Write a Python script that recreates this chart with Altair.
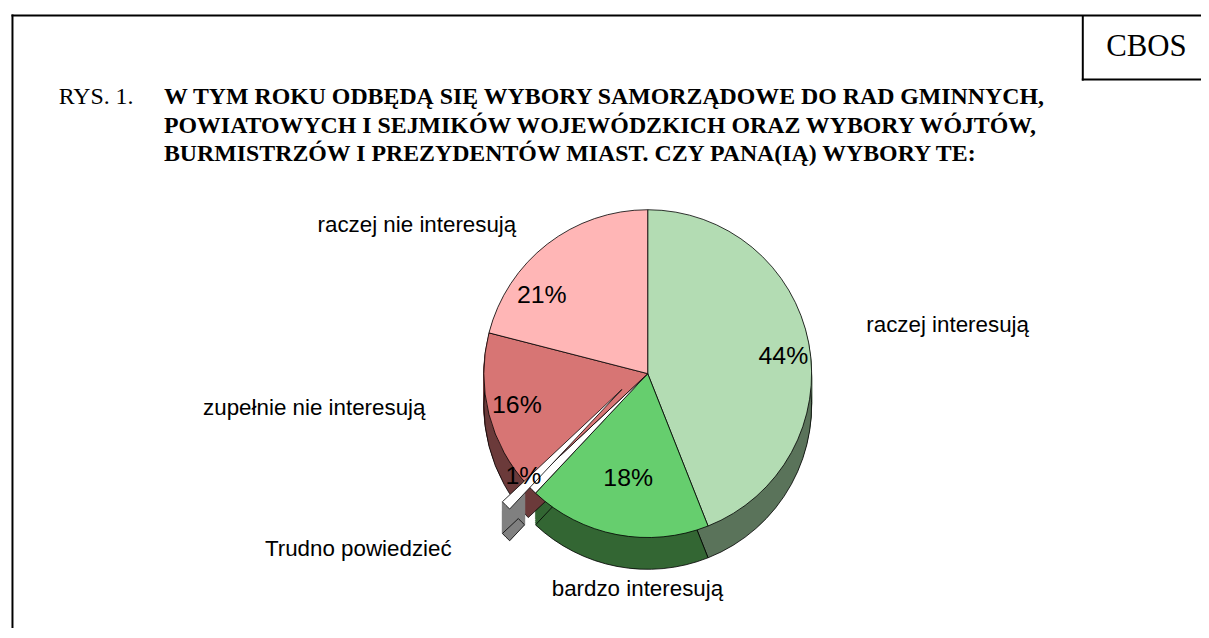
import altair as alt
import pandas as pd

# ---- data ----
categories = ["raczej interesują", "bardzo interesują", "Trudno powiedzieć",
              "zupełnie nie interesują", "raczej nie interesują"]
values = [44, 18, 1, 16, 21]
title_lines = [
    "W TYM ROKU ODBĘDĄ SIĘ WYBORY SAMORZĄDOWE DO RAD GMINNYCH,",
    "POWIATOWYCH I SEJMIKÓW WOJEWÓDZKICH ORAZ WYBORY WÓJTÓW,",
    "BURMISTRZÓW I PREZYDENTÓW MIAST. CZY PANA(IĄ) WYBORY TE:",
]
exploded = "Trudno powiedzieć"

# ---- styles ----
top_colors = ["#B3DCB3", "#66CE6E", "#FFFFFF", "#D77574", "#FFB6B6"]
side_colors = ["#5A735A", "#336633", "#808080", "#6B3A3A", "#806060"]
CX, CY, R, DEPTH = 644, 366, 165, 32
EX, EY = -26, 16
SANS = "Liberation Sans"
SERIF = "Liberation Serif"

label_style = {
    "raczej interesują": dict(radius=224, align="left", dx=0, dy=0),
    "bardzo interesują": dict(radius=226, align="center", dx=32, dy=2),
    "Trudno powiedzieć": dict(radius=265, align="right", dx=-10, dy=-4),
    "zupełnie nie interesują": dict(radius=231, align="right", dx=0, dy=-16),
    "raczej nie interesują": dict(radius=180, align="right", dx=-22, dy=0),
}
pct_style = {
    "raczej interesują": dict(radius=135, dx=4, dy=8),
    "bardzo interesują": dict(radius=105, dx=0, dy=2),
    "Trudno powiedzieć": dict(radius=160, dx=-12, dy=-10),
    "zupełnie nie interesują": dict(radius=136, dx=0, dy=-2),
    "raczej nie interesują": dict(radius=125, dx=-30, dy=20),
}

df = pd.DataFrame({"category": categories, "value": values,
                   "idx": list(range(len(categories)))})
one = pd.DataFrame({"a": [0]})

base = alt.Chart(df).encode(
    theta=alt.Theta("value:Q", stack=True),
    order=alt.Order("idx:Q"),
)


def arcs(dx, dy, colors, stroke, mode, inner=0):
    enc = dict(
        x=alt.value(CX + dx), y=alt.value(CY + dy),
        color=alt.Color("category:N", scale=alt.Scale(domain=categories, range=colors),
                        legend=None),
    )
    if mode == "only":
        enc["opacity"] = alt.condition(alt.datum.category == exploded, alt.value(1), alt.value(0))
    elif mode == "hide":
        enc["opacity"] = alt.condition(alt.datum.category == exploded, alt.value(0), alt.value(1))
    mk = dict(outerRadius=R)
    if inner:
        mk["innerRadius"] = inner
    if stroke:
        mk.update(stroke="black", strokeWidth=0.8)
    else:
        # same-colour outline hides anti-aliasing seams between stacked layers
        enc["stroke"] = alt.Stroke("category:N",
                                   scale=alt.Scale(domain=categories, range=colors),
                                   legend=None)
        mk["strokeWidth"] = 1.2
    return base.mark_arc(**mk).encode(**enc)


layers = []
# main pie: side (extrusion) then top
for k in range(2, DEPTH, 2):
    layers.append(arcs(0, k, side_colors, False, "hide"))
layers.append(arcs(0, DEPTH, side_colors, True, "hide"))
layers.append(arcs(0, 0, top_colors, True, "all"))
# exploded slice (only its outer end shows a side face)
for k in range(1, DEPTH, 1):
    layers.append(arcs(EX, EY + k, side_colors, False, "only", inner=R - 22))
layers.append(arcs(EX, EY + DEPTH, side_colors, True, "only", inner=R - 22))
layers.append(arcs(EX, EY, top_colors, True, "only"))

# category labels
for cat, st in label_style.items():
    layers.append(
        base.mark_text(radius=st["radius"], align=st["align"], baseline="alphabetic",
                       dx=st["dx"], dy=st["dy"], font=SANS, fontSize=22.5, color="black")
        .encode(x=alt.value(CX), y=alt.value(CY),
                text=alt.condition(alt.datum.category == cat, alt.Text("category:N"), alt.value("")))
    )
# percentage labels
for cat, st in pct_style.items():
    layers.append(
        base.transform_calculate(pct="datum.value + '%'")
        .mark_text(radius=st["radius"], align="center", baseline="middle",
                   dx=st["dx"], dy=st["dy"], font=SANS, fontSize=25, color="black")
        .encode(x=alt.value(CX), y=alt.value(CY),
                text=alt.condition(alt.datum.category == cat, alt.Text("pct:N"), alt.value("")))
    )

# frame and CBOS box (lines)
def hline(x1, x2, y):
    return alt.Chart(one).mark_rule(stroke="black", strokeWidth=2).encode(
        x=alt.value(x1), x2=alt.value(x2), y=alt.value(y))


def vline(x, y1, y2):
    return alt.Chart(one).mark_rule(stroke="black", strokeWidth=2).encode(
        x=alt.value(x), y=alt.value(y1), y2=alt.value(y2))


frame = [hline(3.5, 1210, 5.5), vline(4.5, 4.5, 640),
         vline(1082, 5.5, 71), hline(1081, 1210, 70)]
cbos = alt.Chart(one).mark_text(font=SERIF, fontSize=31, align="center", baseline="middle",
                                color="black").encode(
    x=alt.value(1146), y=alt.value(37), text=alt.value("CBOS"))
rys = alt.Chart(one).mark_text(font=SERIF, fontSize=24, align="left", baseline="alphabetic",
                               color="black").encode(
    x=alt.value(51), y=alt.value(95), text=alt.value("RYS. 1."))
title = alt.Chart(one).mark_text(font=SERIF, fontSize=24, fontWeight="bold", align="left",
                                 baseline="alphabetic", lineHeight=28.5, color="black").encode(
    x=alt.value(157), y=alt.value(95), text=alt.value(title_lines))

chart = alt.layer(*frame, cbos, rys, title, *layers).resolve_scale(
    color="independent", stroke="independent", opacity="independent"
).properties(width=1201, height=620, padding=0, autosize="none").configure_view(stroke=None)

chart.save("out.html", embed_options={"renderer": "svg", "actions": False})
